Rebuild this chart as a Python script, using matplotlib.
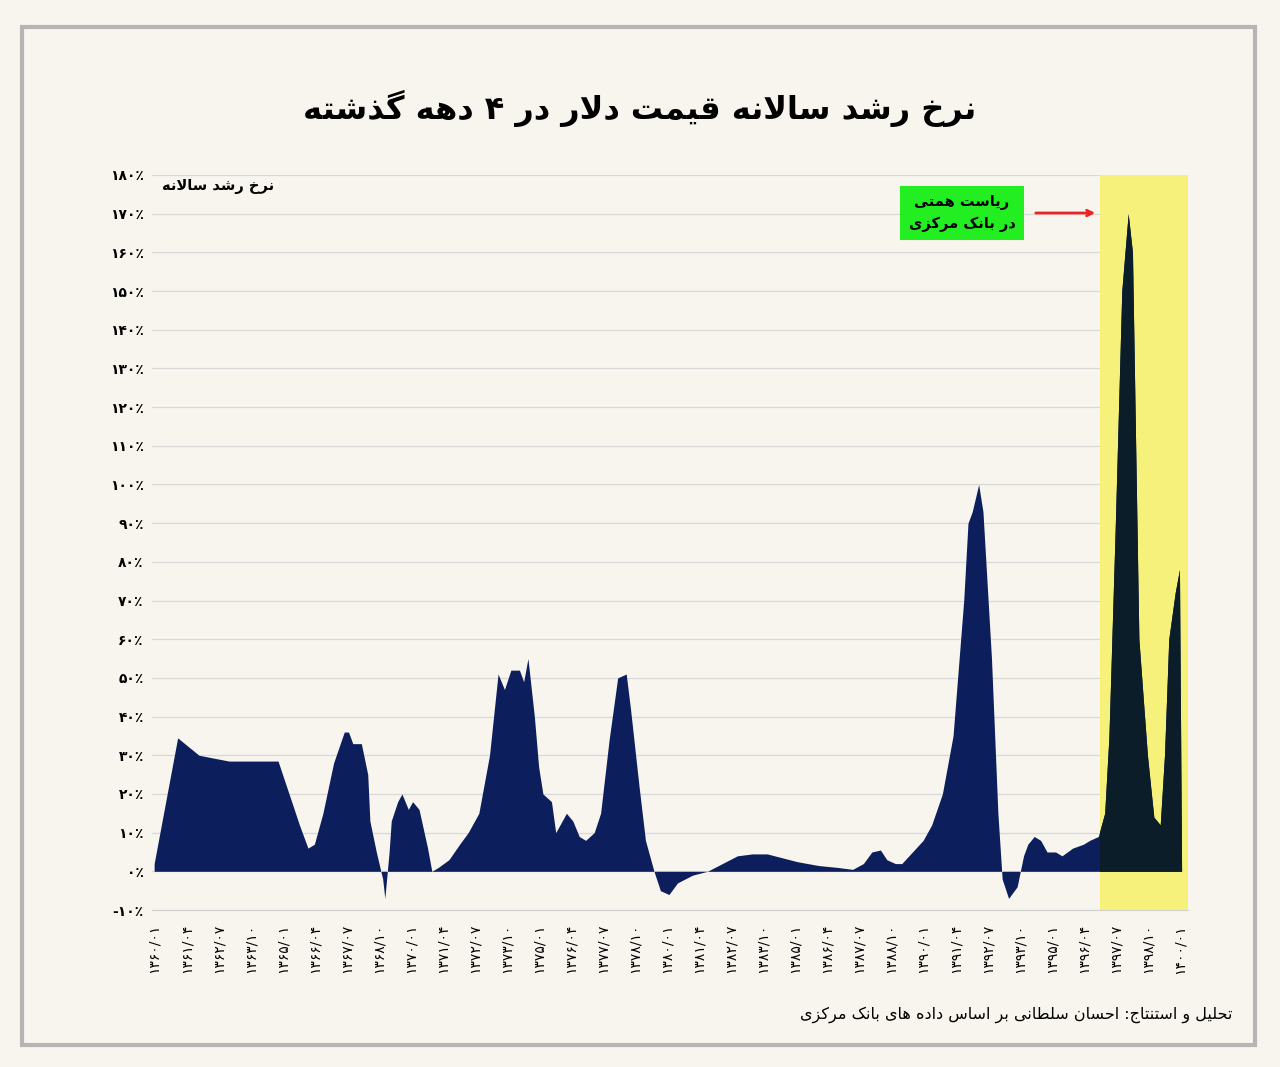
import unicodedata
import matplotlib
matplotlib.use("Agg")
import matplotlib.pyplot as plt
from matplotlib.patches import Rectangle

# ---------------- data ----------------
months = [0, 11, 21, 35, 44, 58, 68, 72, 75, 79, 84, 89, 91, 93, 97, 100, 101, 104, 107, 108,
          110, 111, 114, 116, 119, 121, 124, 128, 130, 133, 138, 143, 147, 152, 157, 161, 164, 167,
          171, 173, 175, 178, 180, 182, 186, 188, 191, 193, 196, 199, 202, 206, 209, 213, 217, 221,
          223, 227, 230, 234, 237, 241, 245, 252, 259, 266, 273, 280, 287, 294, 301, 311, 320, 327,
          332, 336, 340, 343, 347, 350, 355, 360, 364, 369, 374, 379, 381, 383, 386, 388, 392, 395,
          397, 400, 404, 407, 409, 412, 415, 418, 422, 425, 430, 435, 438, 442, 445, 447, 450, 453,
          456, 458, 461, 465, 468, 471, 473, 475, 478, 480, 481]
growth = [2, 34.5, 30, 28.5, 28.5, 28.5, 12, 6, 7, 15, 28, 36, 36, 33, 33, 25, 13, 5, -2, -7,
          5, 13, 18, 20, 16, 18, 16, 6, 0, 1, 3, 7, 10, 15, 30, 51, 47, 52,
          52, 49, 55, 40, 27, 20, 18, 10, 13, 15, 13, 9, 8, 10, 15, 34, 50, 51,
          42, 22, 8, 0, -5, -6, -3, -1, 0, 2, 4, 4.5, 4.5, 3.5, 2.5, 1.5, 1, 0.5,
          2, 5, 5.5, 3, 2, 2, 5, 8, 12, 20, 35, 70, 90, 93, 100, 93, 55, 15,
          -2, -7, -4, 4, 7, 9, 8, 5, 5, 4, 6, 7, 8, 9, 15, 35, 90, 150,
          170, 160, 60, 30, 14, 12, 30, 60, 72, 78, 0]
tick_labels = ["۱۳۶۰/۰۱", "۱۳۶۱/۰۴", "۱۳۶۲/۰۷", "۱۳۶۳/۱۰", "۱۳۶۵/۰۱", "۱۳۶۶/۰۴", "۱۳۶۷/۰۷",
               "۱۳۶۸/۱۰", "۱۳۷۰/۰۱", "۱۳۷۱/۰۴", "۱۳۷۲/۰۷", "۱۳۷۳/۱۰", "۱۳۷۵/۰۱", "۱۳۷۶/۰۴",
               "۱۳۷۷/۰۷", "۱۳۷۸/۱۰", "۱۳۸۰/۰۱", "۱۳۸۱/۰۴", "۱۳۸۲/۰۷", "۱۳۸۳/۱۰", "۱۳۸۵/۰۱",
               "۱۳۸۶/۰۴", "۱۳۸۷/۰۷", "۱۳۸۸/۱۰", "۱۳۹۰/۰۱", "۱۳۹۱/۰۴", "۱۳۹۲/۰۷", "۱۳۹۳/۱۰",
               "۱۳۹۵/۰۱", "۱۳۹۶/۰۴", "۱۳۹۷/۰۷", "۱۳۹۸/۱۰", "۱۴۰۰/۰۱"]
y_ticks = list(range(-10, 181, 10))
hemmati_start, hemmati_end = 443, 484

# ---------------- simple Persian shaper ----------------
RIGHT_JOIN = set("اآأإدذرزژوؤة")
def _form(c, f):
    try:
        return unicodedata.lookup(unicodedata.name(c) + " " + f + " FORM")
    except Exception:
        return c
def _joins(c):
    try:
        return unicodedata.name(c).startswith("ARABIC LETTER")
    except Exception:
        return False
def fa(text):
    lines = []
    for line in text.split("\n"):
        s = line
        out = []
        i = 0
        n = len(s)
        while i < n:
            c = s[i]
            prev = s[i-1] if i > 0 else ""
            prev_links = bool(prev) and _joins(prev) and prev not in RIGHT_JOIN
            if c == "ل" and i + 1 < n and s[i+1] == "ا":
                out.append("\uFEFC" if prev_links else "\uFEFB")
                i += 2
                continue
            if not _joins(c):
                out.append(c); i += 1; continue
            nxt = s[i+1] if i + 1 < n else ""
            next_links = bool(nxt) and _joins(nxt) and c not in RIGHT_JOIN
            if prev_links and next_links:
                f = "MEDIAL"
            elif prev_links:
                f = "FINAL"
            elif next_links:
                f = "INITIAL"
            else:
                f = "ISOLATED"
            out.append(_form(c, f))
            i += 1
        lines.append("".join(reversed(out)))
    return "\n".join(lines)

plt.rcParams['font.family'] = ['DejaVu Sans']
BG = "#f8f5ee"
fig = plt.figure(figsize=(12.8, 10.67), dpi=100, facecolor=BG)
fig.patches.append(Rectangle((22/1280, 1-1045/1067), (1255-22)/1280, (1045-27)/1067,
                             transform=fig.transFigure, fill=False, ec="#b5b5b5", lw=3))
ax = fig.add_axes([152/1280, 1-910/1067, (1188-152)/1280, (910-175)/1067], facecolor=BG)

ax.set_xlim(-1, 484)
ax.set_ylim(-10, 180)
ax.set_yticks(y_ticks)
ax.set_yticklabels([("-" if v < 0 else "") + str(abs(v)).translate(str.maketrans("0123456789", "۰۱۲۳۴۵۶۷۸۹")) + "٪"
                    for v in y_ticks], fontsize=10, fontweight="bold")
ax.grid(axis="y", color="#d8d8d8", lw=0.9)
ax.set_axisbelow(True)
ax.set_xticks([15 * i for i in range(len(tick_labels))])
ax.set_xticklabels(tick_labels, fontsize=9, fontweight="bold")
for sp in ["top", "right", "left"]:
    ax.spines[sp].set_visible(False)
ax.spines["bottom"].set_color("#d0d0d0")
ax.spines["bottom"].set_position(("data", -10))
ax.tick_params(length=0, pad=6)
ax.tick_params(axis="x", labelrotation=90, pad=10)

span = ax.axvspan(hemmati_start, hemmati_end, color="#f6f17a", zorder=1, lw=0)
ax.fill_between(months, growth, 0, color="#0c1e5b", lw=0, zorder=2)
dark = ax.fill_between(months, growth, 0, color="#0b1d28", lw=0, zorder=3)
dark.set_clip_path(span)

fig.text(0.5, 1-108/1067, fa("نرخ رشد سالانه قیمت دلار در ۴ دهه گذشته"), ha="center", va="center",
         fontsize=23, fontweight="bold")
ax.text(0.118, 0.984, fa("نرخ رشد سالانه"), transform=ax.transAxes, ha="right", va="center",
        fontsize=10.5, fontweight="bold")
fig.text(962/1280, 1-213/1067, fa("ریاست همتی\nدر بانک مرکزی"), ha="center", va="center",
         fontsize=10.5, fontweight="bold", linespacing=1.5,
         bbox=dict(boxstyle="square,pad=0.6", fc="#22ee22", ec="none"))
ax.annotate("", xy=(1098/1280, 1-213/1067), xytext=(1033/1280, 1-213/1067),
            xycoords="figure fraction", textcoords="figure fraction",
            arrowprops=dict(arrowstyle="->", color="#ee2222", lw=2))
fig.text(1232/1280, 1-1015/1067, fa("تحلیل و استنتاج: احسان سلطانی بر اساس داده های بانک مرکزی"),
         ha="right", va="center", fontsize=11.5)

fig.savefig("out.png", dpi=100, facecolor=BG)
